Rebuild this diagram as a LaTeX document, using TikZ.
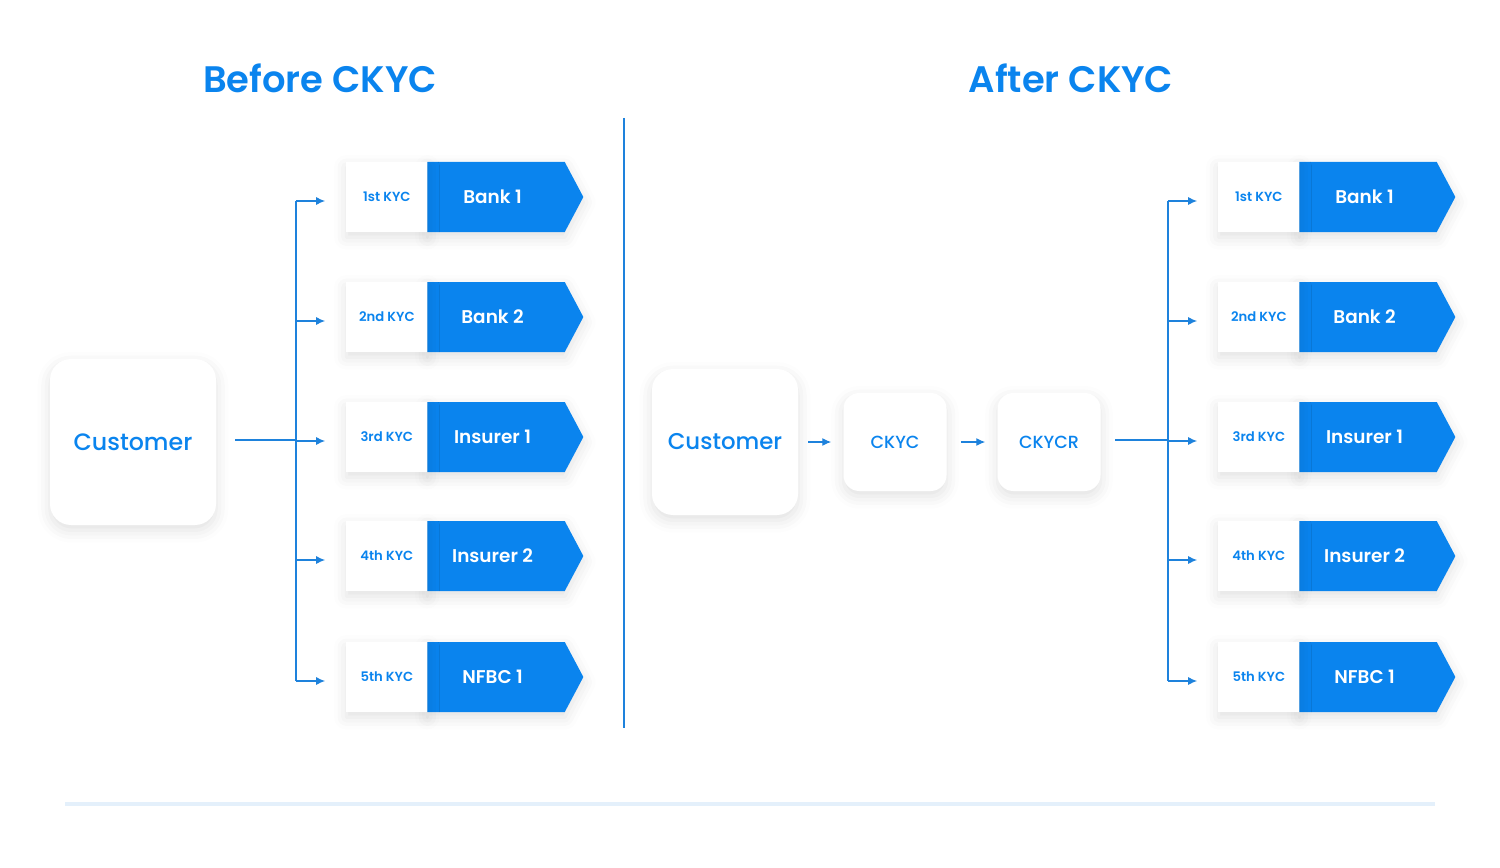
\documentclass[tikz,border=0pt]{standalone}
\usepackage{fontspec}
\setmainfont{Poppins}
\newfontfamily\semi{Poppins SemiBold}
\newfontfamily\med{Poppins Medium}
\usetikzlibrary{shapes.symbols,shadows.blur,arrows.meta,calc}
\definecolor{cb}{RGB}{10,132,238}
\definecolor{cl}{RGB}{30,130,220}
\tikzset{
 x=0.02cm,y=-0.02cm,
 sh/.style={blur shadow={shadow xshift=0pt,shadow yshift=-3pt,shadow blur radius=7pt,shadow opacity=12}},
 card/.style={draw=none,fill=white,rounded corners=12pt,sh,text=cb,inner sep=0pt},
 lab/.style={fill=white,sh,minimum width=81*0.02cm,minimum height=70*0.02cm,inner sep=0pt,text=cb,font=\fontsize{7.5}{9}\selectfont\semi,anchor=west},
 sig/.style={signal,signal to=east,signal pointer angle=124,fill=cb,sh,minimum width=156*0.02cm,minimum height=70*0.02cm,inner sep=0pt,text=white,font=\fontsize{10.5}{12}\selectfont\semi,anchor=west},
 con/.style={draw=cl,line width=0.6pt},
 arr/.style={con,-{Latex[length=5pt,width=4.5pt]}},
 ttl/.style={text=cb,font=\fontsize{21}{25}\selectfont\semi}
}
\begin{document}
\begin{tikzpicture}
\useasboundingbox (0,0) rectangle (1500,868);
\node[ttl] (t1) at (320,78) {Before CKYC};
\node[ttl] (t2) at (1071,78) {After CKYC};
\coordinate (d1) at (624,118); \coordinate (d2) at (624,728);
\draw[con] (d1) -- (d2);
\coordinate (b1) at (65,804); \coordinate (b2) at (1435,804);
\draw[draw=cl!12,line width=2pt] (b1) -- (b2);
% left
\node[card,minimum width=166*0.02cm,minimum height=166*0.02cm,font=\fontsize{13.5}{16}\selectfont\med] (cu1) at (133,442) {Customer};
\coordinate (j1) at (296,440);
\coordinate (s1) at (235,440);
\draw[con] (s1) -- (j1);
% right
\node[card,minimum width=146*0.02cm,minimum height=146*0.02cm,font=\fontsize{13}{16}\selectfont\med] (cu2) at (725,442) {Customer};
\node[card,minimum width=103*0.02cm,minimum height=98*0.02cm,rounded corners=9pt,font=\fontsize{10}{12}\selectfont\med] (ck) at (895,442) {CKYC};
\node[card,minimum width=103*0.02cm,minimum height=98*0.02cm,rounded corners=9pt,font=\fontsize{10}{12}\selectfont\med] (ckr) at (1049,442) {CKYCR};
\draw[arr] ($(cu2.east)+(10,0)$) -- ($(ck.west)+(-12,0)$);
\draw[arr] ($(ck.east)+(14,0)$) -- ($(ckr.west)+(-12,0)$);
\coordinate (j2) at (1168,440);
\coordinate (s2) at (1115,440);
\draw[con] (s2) -- (j2);
\foreach \side/\ox/\jx in {L/0/296,R/872/1168}{
 \foreach \i/\y/\k/\n in {1/197/1st/Bank 1,2/317/2nd/Bank 2,3/437/3rd/Insurer 1,4/556/4th/Insurer 2,5/677/5th/NFBC 1}{
  \node[sig] (g\side\i) at (427+\ox,\y) {\hspace*{-4pt}\n};
  \node[lab] (k\side\i) at (346+\ox,\y) {\k\ KYC};
  \coordinate (a\side\i) at (\jx,\y+4);
  \draw[arr] (a\side\i) -- ($(k\side\i.west)+(-21,4)$);
 }
 \draw[con] (a\side1) -- (a\side5);
}
\end{tikzpicture}
\end{document}
